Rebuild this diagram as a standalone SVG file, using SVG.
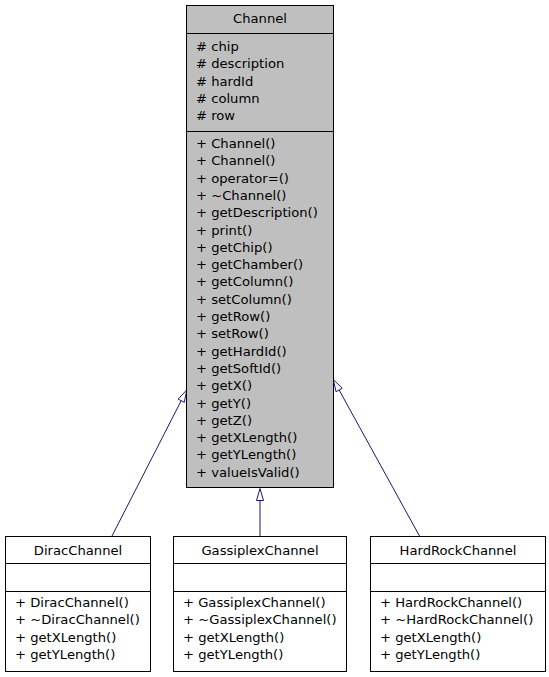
<svg xmlns="http://www.w3.org/2000/svg" width="549" height="677" viewBox="0 0 549 677">
<style>
text{font-family:"DejaVu Sans","Liberation Sans",sans-serif;font-size:13.15px;fill:#000}
.c{text-anchor:middle}
.box{stroke:#000;stroke-width:1}
.sep{stroke:#000;stroke-width:1;fill:none}
.edge{stroke:#191970;stroke-width:1;fill:none}
.head{stroke:#191970;stroke-width:1;fill:#fff}
</style>
<rect width="549" height="677" fill="#fff"/>
<g id="connectors">
<line class="edge" x1="112" y1="536" x2="181.2" y2="400.7"/>
<polygon class="head" points="186.7,390 184.3,402.3 178.1,399.1"/>
<line class="edge" x1="260" y1="536" x2="260" y2="500.5"/>
<polygon class="head" points="260,488.5 263.5,500.5 256.5,500.5"/>
<line class="edge" x1="419.5" y1="536" x2="339.1" y2="390"/>
<polygon class="head" points="333.3,379.5 342.2,388.3 336,391.7"/>
</g>
<g id="Channel">
<rect class="box" x="186.5" y="5.5" width="147" height="482" fill="#bfbfbf"/>
<line class="sep" x1="186.5" y1="33.5" x2="333.5" y2="33.5"/>
<line class="sep" x1="186.5" y1="131.5" x2="333.5" y2="131.5"/>
<text class="c" x="260" y="23">Channel</text>
<text x="196" y="51">
<tspan x="196" y="51"># chip</tspan>
<tspan x="196" y="68.3"># description</tspan>
<tspan x="196" y="85.6"># hardId</tspan>
<tspan x="196" y="102.9"># column</tspan>
<tspan x="196" y="120.2"># row</tspan>
</text>
<text x="196" y="148">
<tspan x="196" y="148">+ Channel()</tspan>
<tspan x="196" y="165.3">+ Channel()</tspan>
<tspan x="196" y="182.6">+ operator=()</tspan>
<tspan x="196" y="199.9">+ ~Channel()</tspan>
<tspan x="196" y="217.2">+ getDescription()</tspan>
<tspan x="196" y="234.5">+ print()</tspan>
<tspan x="196" y="251.8">+ getChip()</tspan>
<tspan x="196" y="269.1">+ getChamber()</tspan>
<tspan x="196" y="286.4">+ getColumn()</tspan>
<tspan x="196" y="303.7">+ setColumn()</tspan>
<tspan x="196" y="321">+ getRow()</tspan>
<tspan x="196" y="338.3">+ setRow()</tspan>
<tspan x="196" y="355.6">+ getHardId()</tspan>
<tspan x="196" y="372.9">+ getSoftId()</tspan>
<tspan x="196" y="390.2">+ getX()</tspan>
<tspan x="196" y="407.5">+ getY()</tspan>
<tspan x="196" y="424.8">+ getZ()</tspan>
<tspan x="196" y="442.1">+ getXLength()</tspan>
<tspan x="196" y="459.4">+ getYLength()</tspan>
<tspan x="196" y="476.7">+ valueIsValid()</tspan>
</text>
</g>
<g id="DiracChannel">
<rect class="box" x="5.5" y="536.5" width="145" height="135" fill="#fff"/>
<line class="sep" x1="5.5" y1="563.5" x2="150.5" y2="563.5"/>
<line class="sep" x1="5.5" y1="591.5" x2="150.5" y2="591.5"/>
<text class="c" x="78" y="555">DiracChannel</text>
<text x="15" y="607">
<tspan x="15" y="607">+ DiracChannel()</tspan>
<tspan x="15" y="624.3">+ ~DiracChannel()</tspan>
<tspan x="15" y="641.6">+ getXLength()</tspan>
<tspan x="15" y="658.9">+ getYLength()</tspan>
</text>
</g>
<g id="GassiplexChannel">
<rect class="box" x="173.5" y="536.5" width="173" height="135" fill="#fff"/>
<line class="sep" x1="173.5" y1="563.5" x2="346.5" y2="563.5"/>
<line class="sep" x1="173.5" y1="591.5" x2="346.5" y2="591.5"/>
<text class="c" x="260" y="555">GassiplexChannel</text>
<text x="183" y="607">
<tspan x="183" y="607">+ GassiplexChannel()</tspan>
<tspan x="183" y="624.3">+ ~GassiplexChannel()</tspan>
<tspan x="183" y="641.6">+ getXLength()</tspan>
<tspan x="183" y="658.9">+ getYLength()</tspan>
</text>
</g>
<g id="HardRockChannel">
<rect class="box" x="370.5" y="536.5" width="175" height="135" fill="#fff"/>
<line class="sep" x1="370.5" y1="563.5" x2="545.5" y2="563.5"/>
<line class="sep" x1="370.5" y1="591.5" x2="545.5" y2="591.5"/>
<text class="c" x="458" y="555">HardRockChannel</text>
<text x="380" y="607">
<tspan x="380" y="607">+ HardRockChannel()</tspan>
<tspan x="380" y="624.3">+ ~HardRockChannel()</tspan>
<tspan x="380" y="641.6">+ getXLength()</tspan>
<tspan x="380" y="658.9">+ getYLength()</tspan>
</text>
</g>
</svg>
